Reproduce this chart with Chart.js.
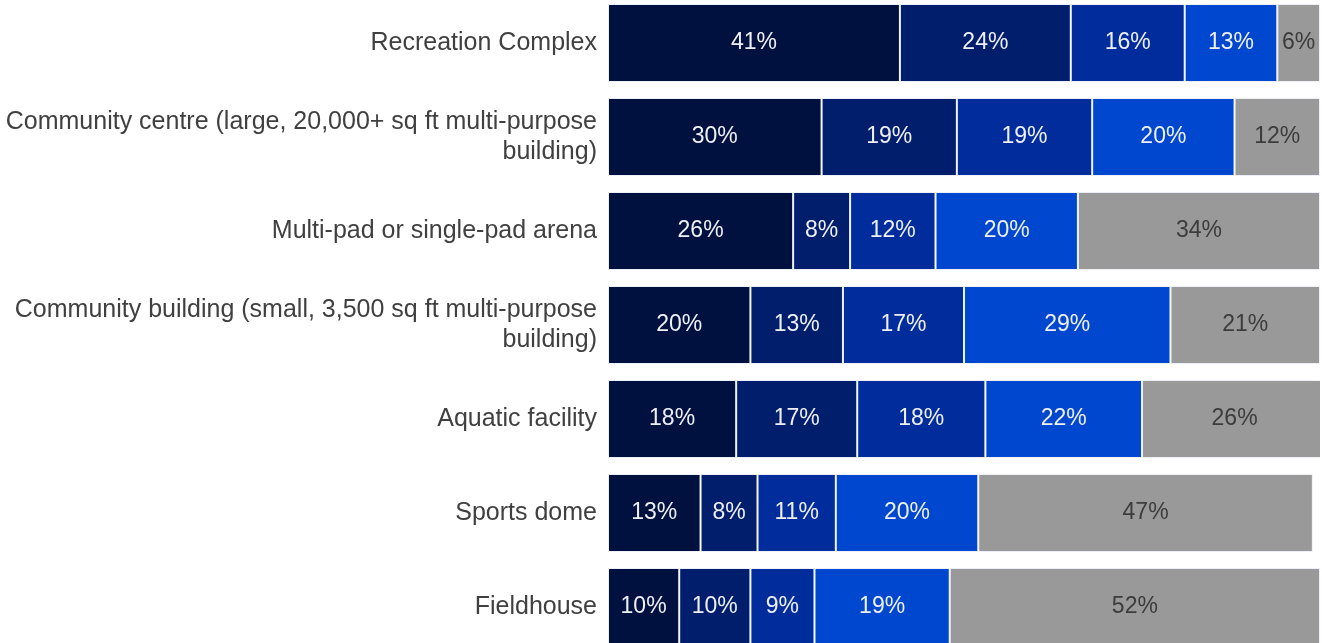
<!DOCTYPE html>
<html>
<head>
<meta charset="utf-8">
<script src="https://cdn.jsdelivr.net/npm/chart.js@4"></script>
<style>
	html, body {
		margin: 0;
		padding: 0;
		background: #ffffff;
		overflow: hidden;
	}
	.plot {
		position: absolute;
		left: 0;
		top: -4px;
		width: 1322px;
		height: 658px;
	}
</style>
</head>
<body>
<div class="plot"><canvas id="chart"></canvas></div>
<script>
const categories = [
	"Recreation Complex",
	["Community centre (large, 20,000+ sq ft multi-purpose", "building)"],
	"Multi-pad or single-pad arena",
	["Community building (small, 3,500 sq ft multi-purpose", "building)"],
	"Aquatic facility",
	"Sports dome",
	"Fieldhouse"
];
const seriesNames = ["Response 1", "Response 2", "Response 3", "Response 4", "Response 5"];
const series1 = [41, 30, 26, 20, 18, 13, 10];
const series2 = [24, 19, 8, 13, 17, 8, 10];
const series3 = [16, 19, 12, 17, 18, 11, 9];
const series4 = [13, 20, 20, 29, 22, 20, 19];
const series5 = [6, 12, 34, 21, 26, 47, 52];
const colors = ["#00103f", "#001e6c", "#002c9c", "#0047cf", "#999999"];
const labelColors = ["#eef0f6", "#eef0f6", "#eef0f6", "#eef0f6", "#3c3c3c"];

// writes each segment's value in the middle of its bar
const valueLabels = {
	id: "valueLabels",
	afterDatasetsDraw(chart) {
		const ctx = chart.ctx;
		ctx.save();
		ctx.font = "23px 'Liberation Sans', Arial, sans-serif";
		ctx.textAlign = "center";
		ctx.textBaseline = "middle";
		chart.data.datasets.forEach((dataset, i) => {
			const meta = chart.getDatasetMeta(i);
			meta.data.forEach((bar, j) => {
				const props = bar.getProps(["x", "y", "base"], true);
				const cx = (props.x + props.base) / 2;
				ctx.fillStyle = labelColors[i];
				ctx.fillText(dataset.data[j] + "%", cx, props.y);
			});
		});
		ctx.restore();
	}
};

function drawChart() {
	const seriesValues = [series1, series2, series3, series4, series5];
	const datasets = seriesValues.map((values, i) => {
		return {
			label: seriesNames[i],
			data: values,
			backgroundColor: colors[i],
			borderColor: "rgba(235, 238, 248, 0.9)",
			borderWidth: 1,
			borderSkipped: false
		};
	});
	const context = document.getElementById("chart").getContext("2d");
	new Chart(context, {
		type: "bar",
		data: {
			labels: categories,
			datasets: datasets
		},
		options: {
			indexAxis: "y",
			maintainAspectRatio: false,
			animation: false,
			events: [],
			layout: {
				padding: {
					left: 0,
					right: 2,
					top: 0,
					bottom: 0
				}
			},
			datasets: {
				bar: {
					categoryPercentage: 1,
					barPercentage: 0.83
				}
			},
			plugins: {
				legend: {
					display: false
				},
				tooltip: {
					enabled: false
				}
			},
			scales: {
				x: {
					stacked: true,
					display: false,
					min: 0,
					max: 100
				},
				y: {
					stacked: true,
					border: {
						display: false
					},
					grid: {
						display: false,
						drawTicks: false
					},
					ticks: {
						padding: 11,
						color: "#404040",
						font: {
							family: "'Liberation Sans', Arial, sans-serif",
							size: 25,
							lineHeight: 1.2
						}
					},
					afterFit: scale => {
						// fixed label column; the wrapped labels must not shrink the bar area
						scale.width = 608;
						scale.paddingTop = 0;
						scale.paddingBottom = 0;
					}
				}
			}
		},
		plugins: [valueLabels]
	});
}

document.addEventListener("DOMContentLoaded", _ => {
	drawChart();
});
</script>
</body>
</html>
